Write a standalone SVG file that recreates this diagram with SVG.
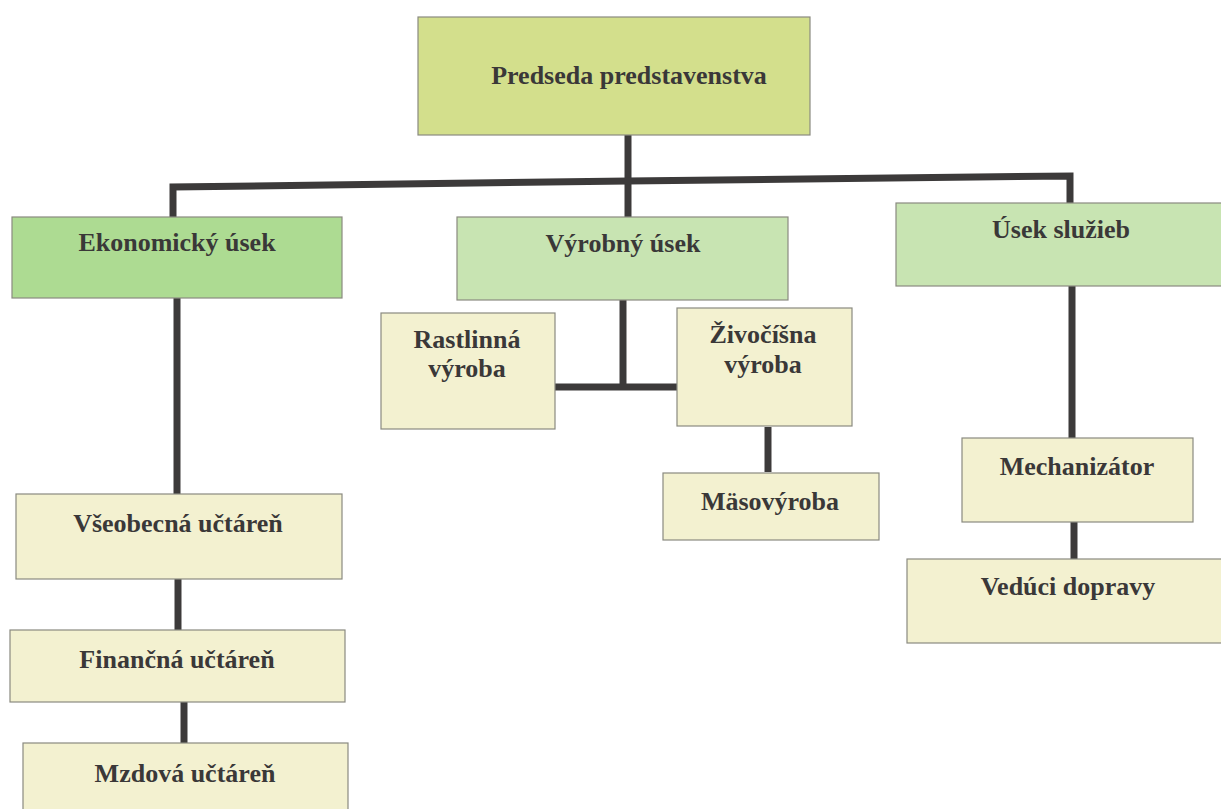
<svg xmlns="http://www.w3.org/2000/svg" width="1221" height="809" viewBox="0 0 1221 809">
<style>
.box{stroke:#8a8a80;stroke-width:1.2}
.top{fill:#d3df8c}
.dg{fill:#addb92}
.lg{fill:#c8e4b2}
.cr{fill:#f3f1d0}
.t{font-family:"Liberation Serif","Times New Roman",serif;font-weight:bold;font-size:26px;fill:#3a3838;text-anchor:middle}
.c{stroke:#3c3a3a;stroke-width:7;fill:none;stroke-linecap:butt}
</style>
<rect width="1221" height="809" fill="#ffffff"/>
<g id="connectors">
<path class="c" d="M628,135 V218"/>
<path class="c" d="M173,217 V187 L628,181 L1070,176 V205"/>
<path class="c" d="M177,298 V494"/>
<path class="c" d="M623,300 V387"/>
<path class="c" d="M555,387 H677"/>
<path class="c" d="M768,427 V472"/>
<path class="c" d="M1072,286 V438"/>
<path class="c" d="M178,579 V631"/>
<path class="c" d="M184,702 V744"/>
<path class="c" d="M1074,522 V560"/>
</g>
<g id="predseda"><rect class="box top" x="418" y="17" width="392" height="118"/><text class="t" x="629" y="84">Predseda predstavenstva</text></g>
<g id="ekonomicky"><rect class="box dg" x="12" y="217" width="330" height="81"/><text class="t" x="177" y="251">Ekonomický úsek</text></g>
<g id="vyrobny"><rect class="box lg" x="457" y="217" width="331" height="83"/><text class="t" x="623" y="252">Výrobný úsek</text></g>
<g id="sluzieb"><rect class="box lg" x="896" y="203" width="330" height="83"/><text class="t" x="1061" y="238">Úsek služieb</text></g>
<g id="rastlinna"><rect class="box cr" x="381" y="313" width="174" height="116"/><text class="t" x="467" y="348">Rastlinná</text><text class="t" x="467" y="377">výroba</text></g>
<g id="zivocisna"><rect class="box cr" x="677" y="308" width="175" height="118"/><text class="t" x="763" y="343">Živočíšna</text><text class="t" x="763" y="373">výroba</text></g>
<g id="masovyroba"><rect class="box cr" x="663" y="473" width="216" height="67"/><text class="t" x="770" y="510">Mäsovýroba</text></g>
<g id="vseobecna"><rect class="box cr" x="16" y="494" width="326" height="85"/><text class="t" x="178" y="532">Všeobecná učtáreň</text></g>
<g id="financna"><rect class="box cr" x="10" y="630" width="335" height="72"/><text class="t" x="177" y="668">Finančná učtáreň</text></g>
<g id="mzdova"><rect class="box cr" x="23" y="743" width="325" height="80"/><text class="t" x="185" y="782">Mzdová učtáreň</text></g>
<g id="mechanizator"><rect class="box cr" x="962" y="438" width="231" height="84"/><text class="t" x="1077" y="475">Mechanizátor</text></g>
<g id="veduci"><rect class="box cr" x="907" y="559" width="330" height="84"/><text class="t" x="1068" y="595">Vedúci dopravy</text></g>
</svg>
